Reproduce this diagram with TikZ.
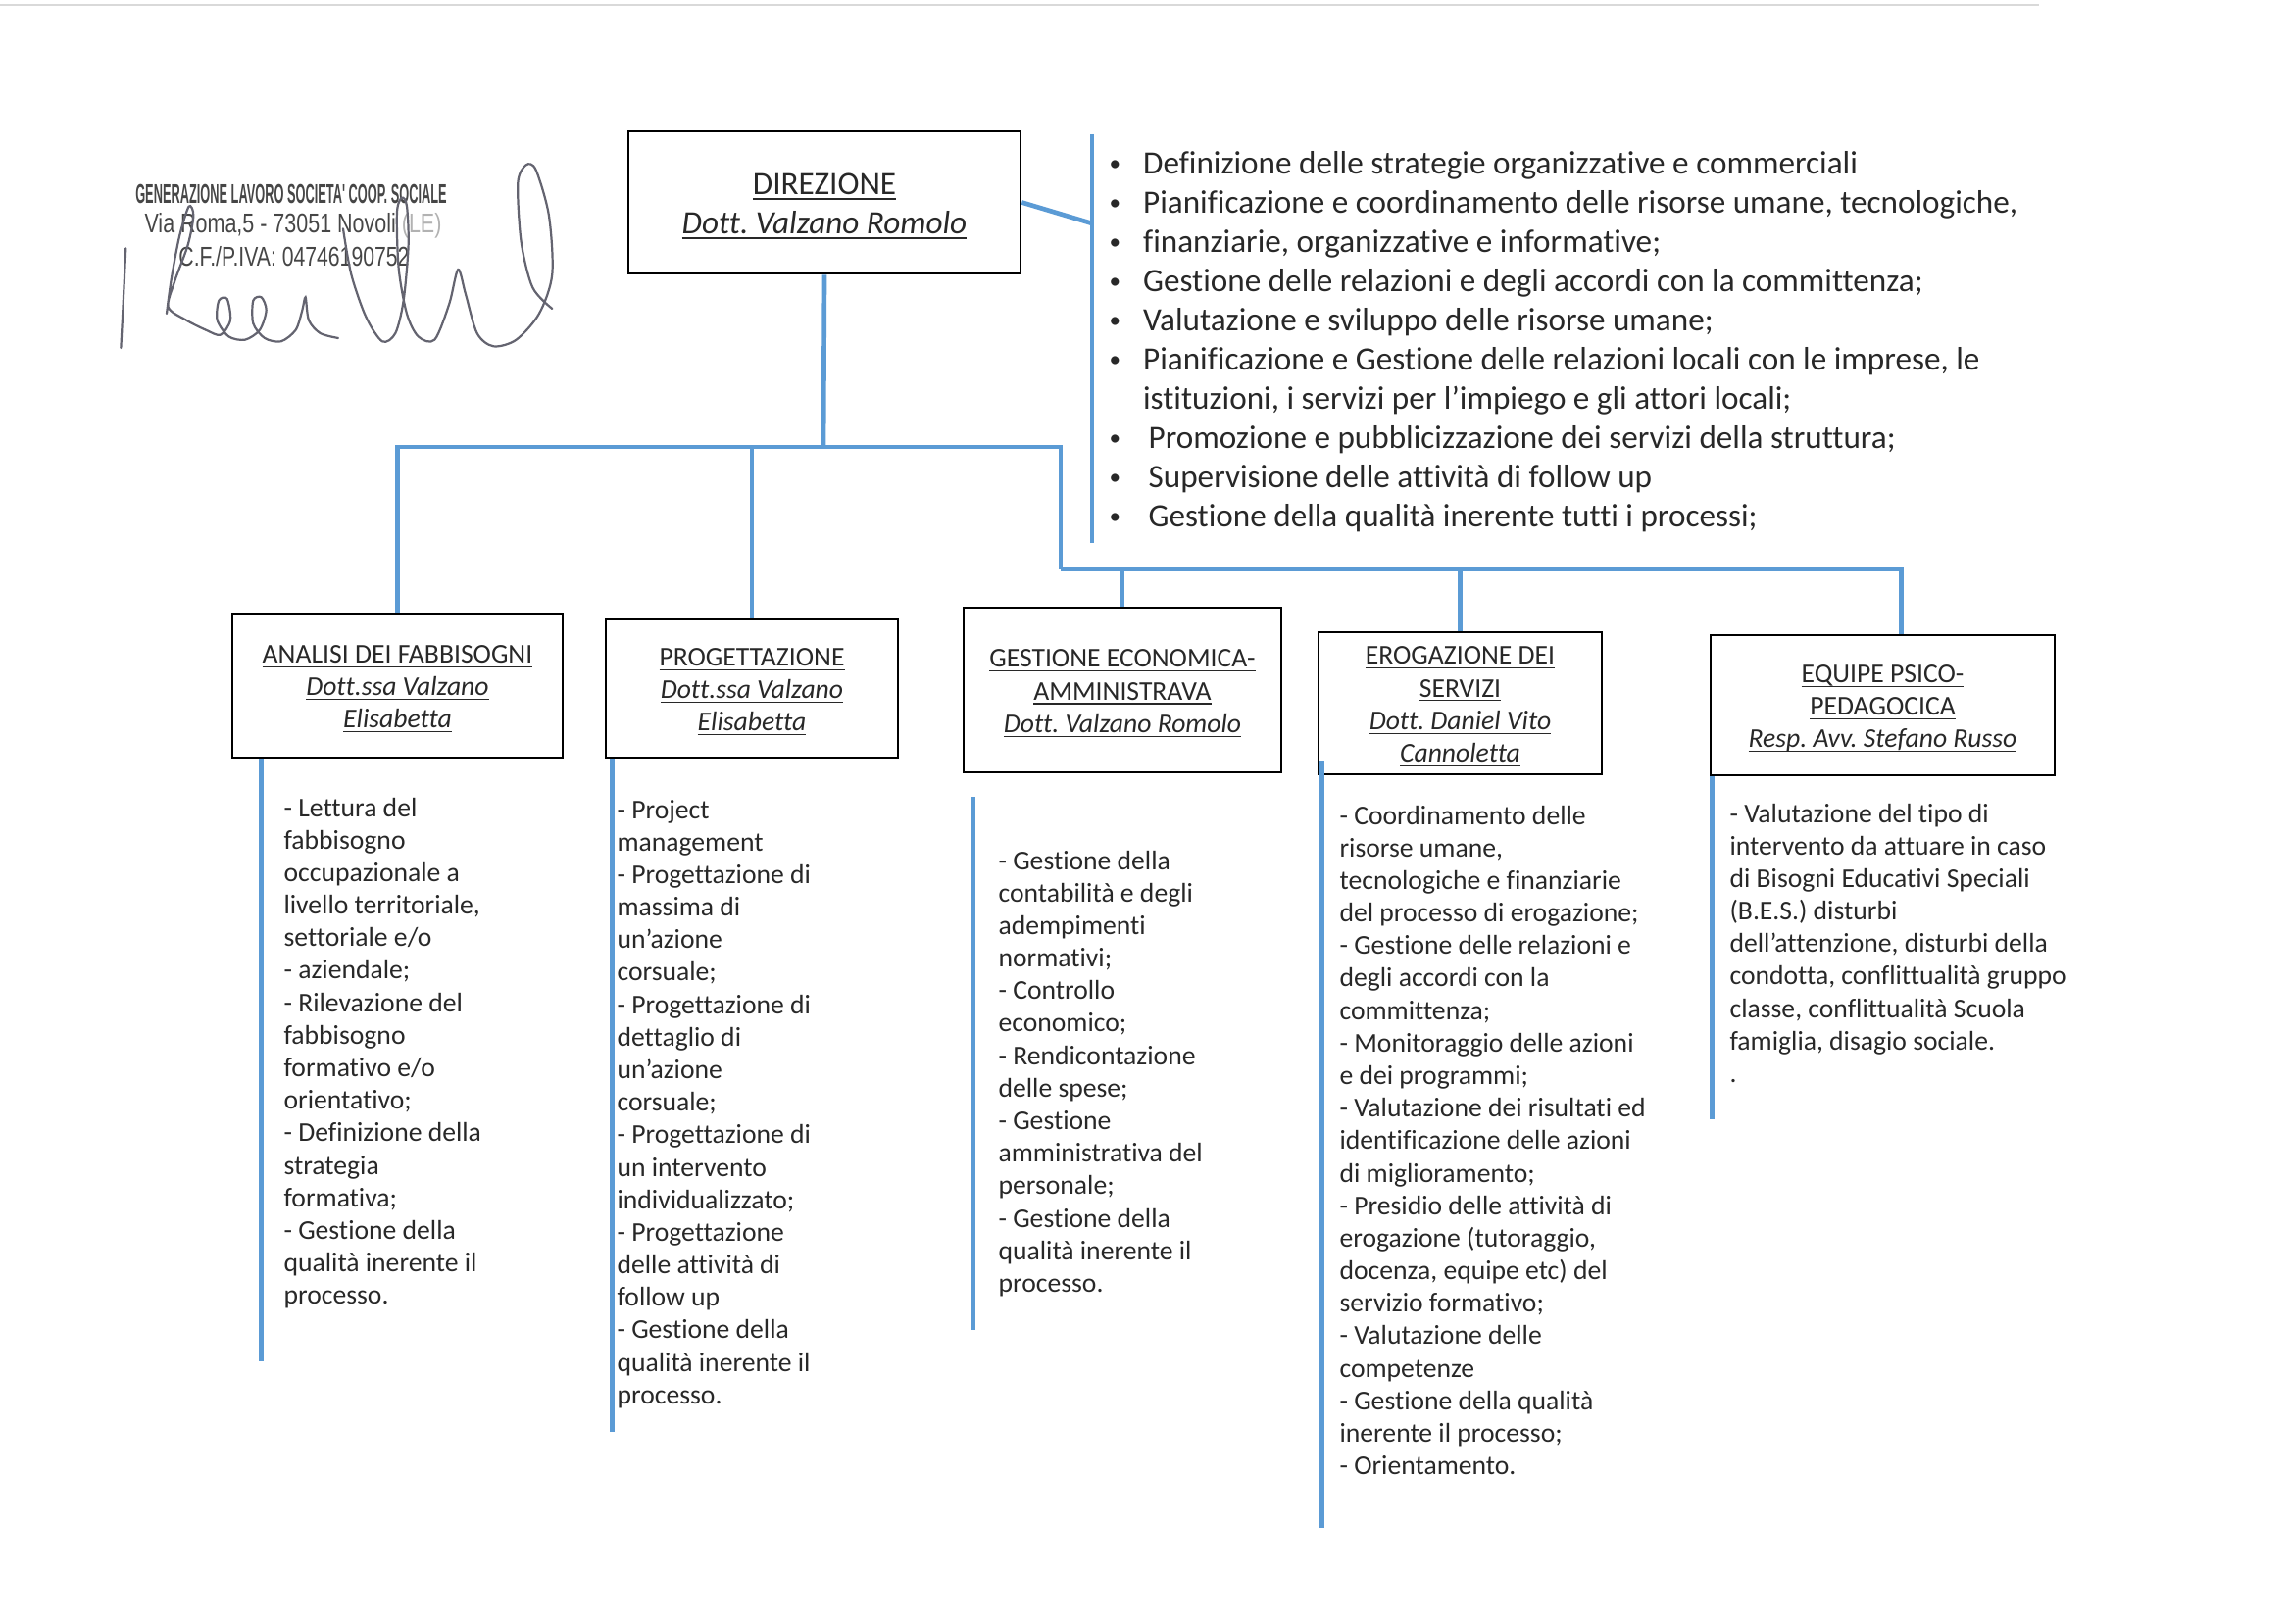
\documentclass[tikz,border=0pt]{standalone}
\usepackage{amsmath}
\usepackage{graphicx}
\usepackage{fontspec}
\setmainfont{Carlito}[Ligatures={NoCommon}]
\newfontfamily\stampfont{Liberation Sans}
\frenchspacing
\definecolor{orgblue}{RGB}{91,155,213}
\definecolor{inkgray}{RGB}{40,40,40}
\definecolor{stampgray}{RGB}{70,70,70}
\definecolor{pengray}{RGB}{100,100,112}
\newcommand\ulin[1]{\underline{\smash[b]{#1}}}
\newcommand\topfix[1]{\rule{0pt}{#1}}
\newcommand\smalldot{\raisebox{1.1pt}{\scalebox{0.7}{\textbullet}}}

\begin{document}
\begin{tikzpicture}[x=0.012714cm,y=-0.012714cm,
    box/.style={draw=black,line width=0.9pt,align=center,inner sep=0pt,text=inkgray,font=\fontsize{10}{12}\selectfont},
    link/.style={draw=orgblue,line width=1.7pt},
    duties/.style={anchor=base west,inner sep=0pt,text=inkgray,font=\fontsize{10}{12}\selectfont},
    stamp/.style={inner sep=0pt,text=stampgray,font=\stampfont\fontsize{10}{12}\selectfont}]
\useasboundingbox (0,0) rectangle (2336,1656);
\draw[gray!30,line width=0.6pt] (0,5) -- (2080,5);

\node[stamp] (coop) at (297,198) {\scalebox{0.463}[1]{\bfseries GENERAZIONE LAVORO SOCIETA' COOP. SOCIALE}};
\node[stamp] (via) at (299,230) {\scalebox{0.777}[1]{Via Roma,5 - 73051 Novoli \textcolor{gray!60}{(LE)}}};
\node[stamp] (cf) at (300,262) {\scalebox{0.767}[1]{C.F./P.IVA: 04746190752}};
\begin{scope}[shift={(110,140)},scale=0.3333,pengray,line width=0.8pt,line cap=round]
  \draw plot[smooth] coordinates {(55,340) (48,490) (40,645)};
  \draw plot[smooth] coordinates {(180,540) (195,430) (220,300) (248,212) (262,240) (245,330) (205,440) (185,520) (240,560) (300,590) (345,605) (375,560) (365,495) (340,500) (335,560) (370,610) (420,620) (465,590) (485,530) (470,490) (445,500) (445,570) (480,615) (530,625) (575,590) (595,530) (605,490) (615,560) (650,600) (705,615)};
  \draw plot[smooth] coordinates {(720,280) (745,420) (790,550) (840,625) (880,600) (905,500) (920,330) (915,210) (900,185) (885,230) (890,400) (915,540) (950,610) (1000,620) (1045,510) (1072,405) (1095,480) (1130,600) (1180,640) (1250,620) (1320,540) (1360,420) (1350,240) (1310,100) (1280,85) (1255,140) (1265,320) (1300,460) (1360,525)};
\end{scope}

\node[box,minimum width=5.086cm,minimum height=1.844cm,font=\fontsize{12}{14.4}\selectfont] (direz) at (841,206.5)
  {\topfix{11pt}\ulin{DIREZIONE}\\\ulin{\textit{Dott. Valzano Romolo}}};

\coordinate (listtop) at (1114,137);
\coordinate (listbot) at (1114,554);
\coordinate (listjoin) at (1114,228);
\draw[link] (listtop) -- (listbot);
\draw[link] (direz.east) -- (listjoin);
\node[anchor=base west,inner sep=0pt,text=inkgray,font=\fontsize{12}{14.45}\selectfont] (compiti) at (1131,178)
  {\begin{tabular}[t]{@{}p{12.5pt}@{}l@{}}
   \smalldot & Definizione delle strategie organizzative e commerciali\\
   \smalldot & Pianificazione e coordinamento delle risorse umane, tecnologiche,\\
   \smalldot & finanziarie, organizzative e informative;\\
   \smalldot & Gestione delle relazioni e degli accordi con la committenza;\\
   \smalldot & Valutazione e sviluppo delle risorse umane;\\
   \smalldot & Pianificazione e Gestione delle relazioni locali con le imprese, le\\
             & istituzioni, i servizi per l’impiego e gli attori locali;\\
   \smalldot & \hspace{2pt}Promozione e pubblicizzazione dei servizi della struttura;\\
   \smalldot & \hspace{2pt}Supervisione delle attività di follow up\\
   \smalldot & \hspace{2pt}Gestione della qualità inerente tutti i processi;
   \end{tabular}};

\node[box,minimum width=4.285cm,minimum height=1.869cm] (analisi) at (405.5,699.5)
  {\topfix{9.3pt}\ulin{ANALISI DEI FABBISOGNI}\\\ulin{\textit{Dott.ssa Valzano}}\\\ulin{\textit{Elisabetta}}};
\node[box,minimum width=3.789cm,minimum height=1.793cm] (progetta) at (767,702.5)
  {\topfix{9.3pt}\ulin{PROGETTAZIONE}\\\ulin{\textit{Dott.ssa Valzano}}\\\ulin{\textit{Elisabetta}}};
\node[box,minimum width=4.119cm,minimum height=2.136cm] (gestione) at (1145,704)
  {\topfix{9.3pt}\ulin{GESTIONE ECONOMICA-}\\\ulin{AMMINISTRAVA}\\\ulin{\textit{Dott. Valzano Romolo}}};
\node[box,minimum width=3.674cm,minimum height=1.844cm] (eroga) at (1489.5,717.5)
  {\topfix{9.3pt}\ulin{EROGAZIONE DEI}\\\ulin{SERVIZI}\\\ulin{\textit{Dott. Daniel Vito}}\\\ulin{\textit{Cannoletta}}};
\node[box,minimum width=4.463cm,minimum height=1.818cm] (equipe) at (1920.5,719.5)
  {\topfix{9.3pt}\ulin{EQUIPE PSICO-}\\\ulin{PEDAGOCICA}\\\ulin{\textit{Resp. Avv. Stefano Russo}}};

\coordinate (hub) at (840,456);
\coordinate (elbow) at (1082,581);
\draw[link] (direz.south) -- (hub);
\draw[link] (analisi.north) |- (hub);
\draw[link] (progetta.north) -- (progetta.north |- hub);
\draw[link] (hub) -| (elbow);
\draw[link] (elbow) -| ([xshift=0.24cm]equipe.north);
\draw[link] (gestione.north) -- (gestione.north |- elbow);
\draw[link] (eroga.north) -- (eroga.north |- elbow);

\draw[link] (analisi.south west) ++(31,0) -- ++(0,615);
\draw[link] (progetta.south west) ++(8,0) -- ++(0,687);
\draw[link] (gestione.south west) ++(11,24) -- ++(0,544);
\draw[link] (eroga.south west) ++(5,-15) -- ++(0,783);
\draw[link] (equipe.south west) ++(3,0) -- ++(0,350);

\node[duties] (lettura) at (289,833) {\begin{tabular}[t]{@{}l@{}}
  - Lettura del\\ fabbisogno\\ occupazionale a\\ livello territoriale,\\ settoriale e/o\\
  - aziendale;\\ - Rilevazione del\\ fabbisogno\\ formativo e/o\\ orientativo;\\
  - Definizione della\\ strategia\\ formativa;\\ - Gestione della\\ qualità inerente il\\ processo.
  \end{tabular}};
\node[duties] (project) at (629,835) {\begin{tabular}[t]{@{}l@{}}
  - Project\\ management\\ - Progettazione di\\ massima di\\ un’azione\\ corsuale;\\
  - Progettazione di\\ dettaglio di\\ un’azione\\ corsuale;\\ - Progettazione di\\
  un intervento\\ individualizzato;\\ - Progettazione\\ delle attività di\\ follow up\\
  - Gestione della\\ qualità inerente il\\ processo.
  \end{tabular}};
\node[duties] (contab) at (1018,887) {\begin{tabular}[t]{@{}l@{}}
  - Gestione della\\ contabilità e degli\\ adempimenti\\ normativi;\\ - Controllo\\ economico;\\
  - Rendicontazione\\ delle spese;\\ - Gestione\\ amministrativa del\\ personale;\\
  - Gestione della\\ qualità inerente il\\ processo.
  \end{tabular}};
\node[duties] (coord) at (1366,841) {\begin{tabular}[t]{@{}l@{}}
  - Coordinamento delle\\ risorse umane,\\ tecnologiche e finanziarie\\ del processo di erogazione;\\
  - Gestione delle relazioni e\\ degli accordi con la\\ committenza;\\ - Monitoraggio delle azioni\\
  e dei programmi;\\ - Valutazione dei risultati ed\\ identificazione delle azioni\\ di miglioramento;\\
  - Presidio delle attività di\\ erogazione (tutoraggio,\\ docenza, equipe etc) del\\ servizio formativo;\\
  - Valutazione delle\\ competenze\\ - Gestione della qualità\\ inerente il processo;\\ - Orientamento.
  \end{tabular}};
\node[duties] (bes) at (1764,839) {\begin{tabular}[t]{@{}l@{}}
  - Valutazione del tipo di\\ intervento da attuare in caso\\ di Bisogni Educativi Speciali\\
  (B.E.S.) disturbi\\ dell’attenzione, disturbi della\\ condotta, conflittualità gruppo\\
  classe, conflittualità Scuola\\ famiglia, disagio sociale.\\ .
  \end{tabular}};
\end{tikzpicture}
\end{document}
